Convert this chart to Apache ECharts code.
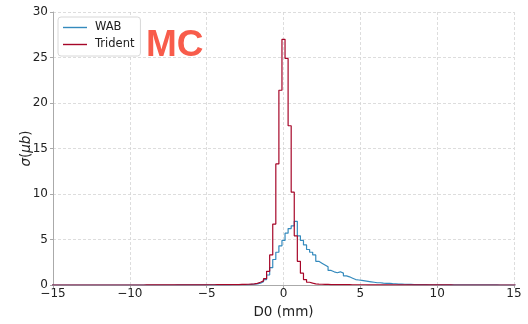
<!DOCTYPE html>
<html>
<head>
<meta charset="utf-8">
<script src="https://cdn.jsdelivr.net/npm/echarts@6/dist/echarts.min.js"></script>
<style>html,body{margin:0;padding:0;background:#fff}#c{width:528px;height:324px}</style>
</head>
<body>
<div id="c"></div>
<script>
// Histogram bins: width 0.2 mm, bin i centred at -15 + 0.2*i (i = 0..150)
var binFirstEdge = -15.1;
var binWidth = 0.2;
var seriesNames = ['WAB', 'Trident'];
var xTicks = [-15, -10, -5, 0, 5, 10, 15];
var yTicks = [0, 5, 10, 15, 20, 25, 30];

var wabValues = [
  0,0,0,0,0,0,0,0,0,0, 0,0,0,0,0,0,0,0,0,0,
  0,0,0,0,0,0,0,0,0,0, 0,0,0,0,0,0,0,0,0,0,
  0.01,0.01,0.01,0.01,0.01,0.01,0.01,0.01,0.01,0.01,0.01,0.01,0.01,0.01,0.01,
  0.02,0.02,0.02,0.03,0.03,0.03,0.04,0.04,
  0.05,0.06,0.08,0.12,0.2,0.35,0.6,1.1,1.9,2.8,3.6,4.3,
  4.9,5.7,6.2,6.5,7.0,5.4,4.9,4.4,3.9,3.6,3.3,2.6,2.4,2.2,2.0,
  1.6,1.45,1.35,1.45,1.3,1.0,0.9,0.75,0.6,0.55,
  0.5,0.45,0.4,0.35,0.3,0.25,0.25,0.2,0.18,0.17,
  0.15,0.14,0.1,0.09,0.08,0.07,0.06,0.05,0.05,0.04,
  0.04,0.04,0.03,0.03,0.03,0.03,0.02,0.02,0.02,0.02,
  0.01,0.01,0.01,0.01,0.01,0.01,0.01,0.01,0.01,0.01,0.01,0.01,0.01,0.01,0.01,
  0,0,0,0,0,0
];

var tridentValues = [
  0,0,0,0,0,0,0,0,0,0, 0,0,0,0,0,0,0,0,0,0, 0,0,0,0,0,0,0,0,0,0,
  0.01,0.01,0.01,0.01,0.01,0.01,0.01,0.01,0.01,0.01,
  0.02,0.02,0.02,0.02,0.02,0.02,0.02,0.02,0.02,0.02,
  0.03,0.03,0.03,0.04,0.04,
  0.04,0.04,0.05,0.05,0.05,
  0.05,0.06,0.07,0.08,0.1,0.12,0.18,0.3,0.45,0.7,1.5,3.3,6.7,13.3,21.4,
  27.0,24.9,17.5,10.2,5.4,2.6,1.3,0.6,0.3,0.2,0.13,0.1,0.08,0.07,0.06,
  0.05,0.05,0.05,0.04,0.04,0.04,0.04,0.03,0.03,0.03,
  0.03,0.03,0.02,0.02,0.02,0.02,0.02,0.02,0.02,0.02,
  0.01,0.01,0.01,0.01,0.01,0.01,0.01,0.01,0.01,0.01,
  0.01,0.01,0.01,0.01,0.01,0.01,0.01,0.01,0.01,0.01,
  0,0,0,0,0,0,0,0,0,0, 0,0,0,0,0,0,0,0,0,0,0
];

function stepData(vals) {
  var out = [];
  for (var i = 0; i < vals.length; i++) {
    out.push([binFirstEdge + binWidth * i, vals[i]]);
  }
  out.push([binFirstEdge + binWidth * vals.length, vals[vals.length - 1]]);
  return out;
}

var colors = ['#348ABD', '#A60628'];
var chart = echarts.init(document.getElementById('c'), null, {renderer: 'canvas'});
var fontFam = 'DejaVu Sans';
var minusFmt = function (v) { return String(v).replace('-', '\u2212'); };

chart.setOption({
  animation: false,
  backgroundColor: '#ffffff',
  grid: {left: 53, right: 14, top: 12, bottom: 35.5, containLabel: false},
  legend: {
    orient: 'vertical',
    left: 58, top: 17,
    padding: [4, 6, 5, 5],
    itemWidth: 24, itemHeight: 1.4, itemGap: 4,
    icon: 'rect',
    backgroundColor: '#ffffff',
    borderColor: '#d8d8d8', borderWidth: 1, borderRadius: 3,
    textStyle: {fontFamily: fontFam, fontSize: 11.5, lineHeight: 13, color: '#222', padding: [0, 0, 0, 3]},
    data: seriesNames
  },
  xAxis: {
    type: 'value', min: xTicks[0], max: xTicks[xTicks.length - 1], interval: 5,
    name: 'D0 (mm)', nameLocation: 'middle', nameGap: 20, nameMoveOverlap: false,
    nameTextStyle: {fontFamily: fontFam, fontSize: 13.5, color: '#222'},
    axisLine: {show: true, onZero: false, lineStyle: {color: '#aaaaaa', width: 1}},
    axisTick: {show: true, length: 3, lineStyle: {color: '#aaaaaa'}},
    axisLabel: {fontFamily: fontFam, fontSize: 12, color: '#222', margin: 3, formatter: minusFmt},
    splitLine: {show: true, lineStyle: {color: '#d4d4d4', width: 0.8, type: [3, 2]}}
  },
  yAxis: {
    type: 'value', min: yTicks[0], max: yTicks[yTicks.length - 1], interval: 5,
    name: '{i|σ}{n|(}{i|μb}{n|)}', nameLocation: 'middle', nameGap: 19.5, nameMoveOverlap: false,
    nameTextStyle: {
      fontFamily: fontFam, fontSize: 13.5, color: '#222',
      rich: {
        i: {fontFamily: fontFam, fontSize: 13.5, fontStyle: 'italic', color: '#222'},
        n: {fontFamily: fontFam, fontSize: 13.5, color: '#222'}
      }
    },
    axisLine: {show: true, onZero: false, lineStyle: {color: '#aaaaaa', width: 1}},
    axisTick: {show: true, length: 3, lineStyle: {color: '#aaaaaa'}},
    axisLabel: {fontFamily: fontFam, fontSize: 12, color: '#222', margin: 5},
    splitLine: {show: true, lineStyle: {color: '#d4d4d4', width: 0.8, type: [3, 2]}}
  },
  series: [
    {
      name: seriesNames[0], type: 'line', step: 'end', symbol: 'none',
      data: stepData(wabValues), color: colors[0],
      lineStyle: {width: 1.2, color: colors[0]}, z: 3
    },
    {
      name: seriesNames[1], type: 'line', step: 'end', symbol: 'none',
      data: stepData(tridentValues), color: colors[1],
      lineStyle: {width: 1.2, color: colors[1]}, z: 4
    }
  ],
  graphic: [{
    type: 'text', left: 146, top: 27, z: 100,
    style: {text: 'MC', font: 'bold 37px "Liberation Sans"', fill: '#f85c4b'}
  }]
});
</script>
</body>
</html>
